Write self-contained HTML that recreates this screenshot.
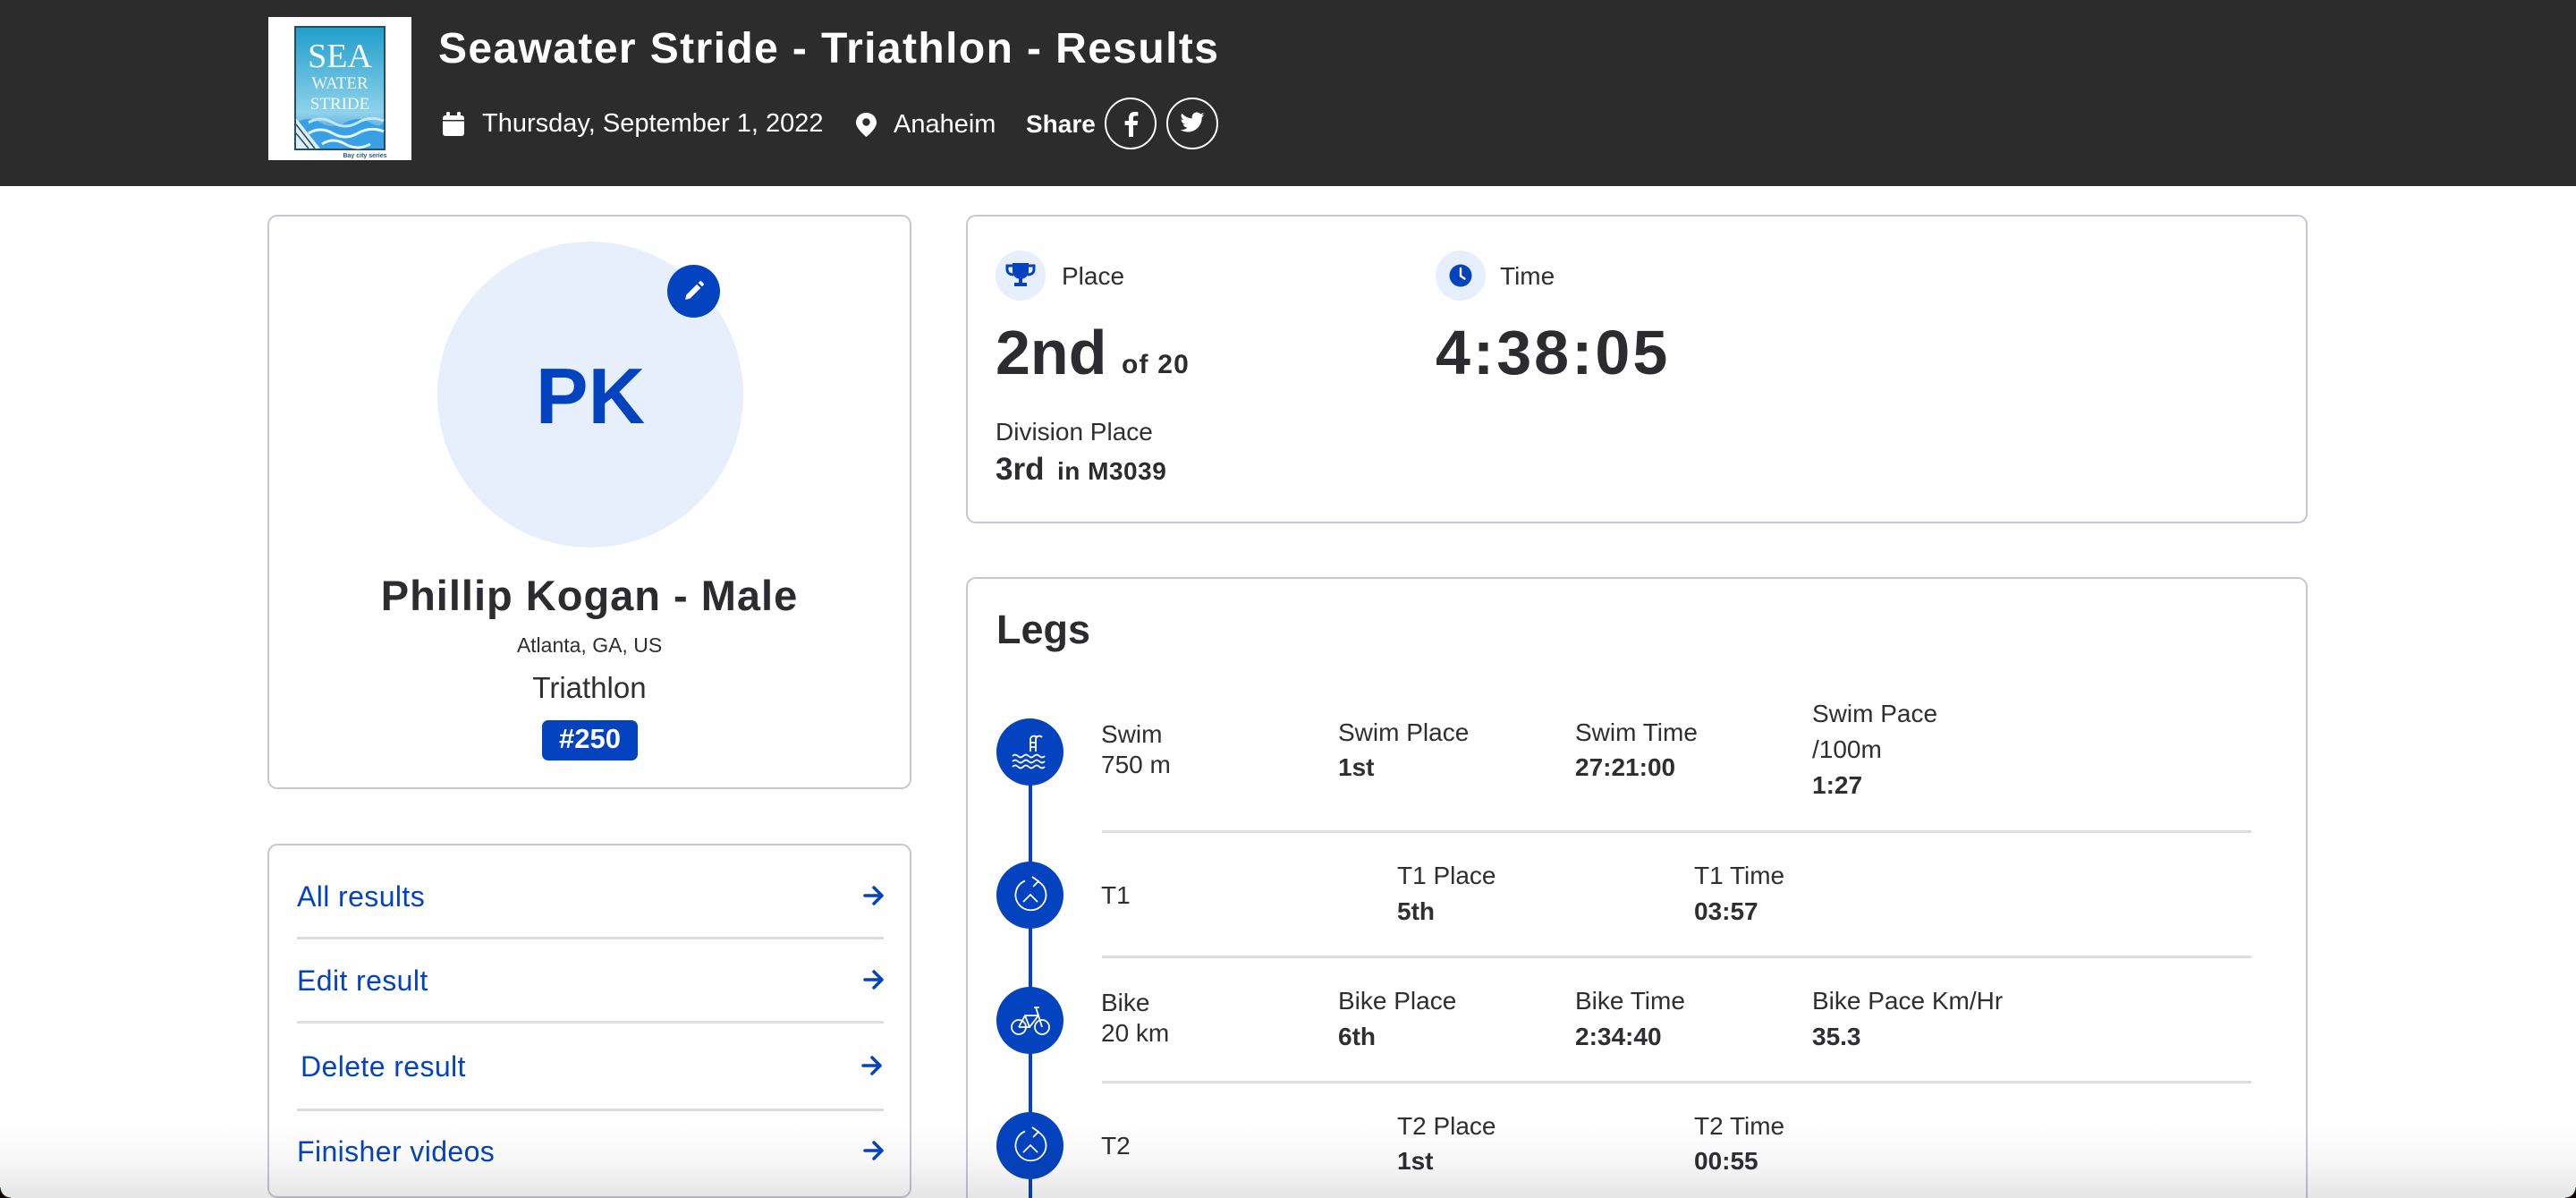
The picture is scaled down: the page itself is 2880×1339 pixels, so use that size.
<!DOCTYPE html>
<html><head><meta charset="utf-8"><style>
*{margin:0;padding:0;box-sizing:border-box}
html,body{width:2880px;height:1339px;overflow:hidden;background:#fff;font-family:"Liberation Sans",Arial,sans-serif;color:#2e2e33}
#wrap{position:relative;width:2880px;height:1339px;overflow:hidden}
.a{position:absolute;white-space:nowrap}
.hdr{position:absolute;left:0;top:0;width:2880px;height:208px;background:#2c2c2c}
.card{position:absolute;border:2px solid #c7c7d3;border-radius:11px;background:#fff}
.t28{font-size:28px;line-height:28px}
.b28{font-size:28px;line-height:28px;font-weight:bold}
.lnk{font-size:32px;line-height:32px;color:#0443c0;letter-spacing:0.4px}
.sep{position:absolute;height:3px;background:#dcdce3}
.circ{position:absolute;width:75px;height:75px;border-radius:50%;background:#0443c0}
.arr{position:absolute;left:965px;width:24px;height:22px}
</style></head><body><div id="wrap">
<div class="hdr"></div>
<!-- logo -->
<svg class="a" style="left:300px;top:19px" width="160" height="160" viewBox="0 0 160 160">
<defs><linearGradient id="lg" x1="0" y1="0" x2="0" y2="1"><stop offset="0" stop-color="#1f9dcc"/><stop offset="0.7" stop-color="#8fd2ea"/><stop offset="1" stop-color="#2d7fd0"/></linearGradient></defs>
<rect width="160" height="160" fill="#fff"/>
<rect x="30" y="11" width="100" height="137" fill="url(#lg)" stroke="#1f4f6a" stroke-width="2"/>
<text x="80" y="56" font-family="Liberation Serif,serif" font-size="38" fill="#f2fbff" text-anchor="middle">SEA</text>
<text x="80" y="80" font-family="Liberation Serif,serif" font-size="19" fill="#f2fbff" text-anchor="middle">WATER</text>
<text x="80" y="103" font-family="Liberation Serif,serif" font-size="19" fill="#f2fbff" text-anchor="middle">STRIDE</text>
<path d="M31 118 Q45 110 58 118 T86 118 T114 118 T129 116 V147 H31Z" fill="#3aa0e6"/>
<path d="M45 118 Q58 110 72 118 T100 118 T129 116" fill="none" stroke="#bfe9fb" stroke-width="3"/>
<path d="M45 130 Q58 122 72 130 T100 130 T129 128" fill="none" stroke="#e6f7ff" stroke-width="3"/>
<path d="M60 142 Q72 134 86 142 T114 142" fill="none" stroke="#e6f7ff" stroke-width="3"/>
<polygon points="31,113 31,147 58,147" fill="#dfeef2"/>
<line x1="31" y1="120" x2="52" y2="147" stroke="#1f4f6a" stroke-width="1.5"/>
<line x1="31" y1="130" x2="45" y2="147" stroke="#1f4f6a" stroke-width="1.5"/>
<text x="108" y="157" font-family="Liberation Sans,sans-serif" font-size="7" font-weight="bold" fill="#2a5a80" text-anchor="middle">Bay city series</text>
</svg>
<div class="a" style="left:490px;top:31px;font-size:48px;line-height:48px;font-weight:bold;color:#fff;letter-spacing:1.4px">Seawater Stride - Triathlon - Results</div>
<!-- calendar -->
<svg class="a" style="left:495px;top:125px" width="24" height="27" viewBox="0 0 24 27"><rect x="4" y="0" width="4" height="6" rx="1.5" fill="#fff"/><rect x="16" y="0" width="4" height="6" rx="1.5" fill="#fff"/><rect x="0" y="4" width="24" height="23" rx="3" fill="#fff"/><rect x="0" y="9" width="24" height="1.5" fill="#2c2c2c"/></svg>
<div class="a" style="left:539px;top:124px;font-size:29px;line-height:29px;color:#fff">Thursday, September 1, 2022</div>
<svg class="a" style="left:957px;top:126px" width="23" height="27" viewBox="0 0 23 27"><path d="M11.5 0C5 0 0 5 0 11c0 7 11.5 16 11.5 16S23 18 23 11C23 5 18 0 11.5 0z" fill="#fff"/><circle cx="11.5" cy="10.5" r="4.2" fill="#2c2c2c"/></svg>
<div class="a" style="left:999px;top:125px;font-size:29px;line-height:29px;color:#fff">Anaheim</div>
<div class="a" style="left:1147px;top:125px;font-size:28px;line-height:28px;color:#fff;font-weight:bold">Share</div>
<div class="a" style="left:1235px;top:109px;width:58px;height:58px;border:2px solid #fff;border-radius:50%"></div>
<svg class="a" style="left:1253px;top:123px" width="22" height="30" viewBox="0 0 22 30"><path d="M14 30V17h4.5l.7-5H14V9c0-1.5.5-2.5 2.6-2.5H19.4V2.2C18.9 2.1 17.3 2 15.5 2 11.6 2 9 4.3 9 8.6V12H4.6v5H9v13z" fill="#fff"/></svg>
<div class="a" style="left:1304px;top:109px;width:58px;height:58px;border:2px solid #fff;border-radius:50%"></div>
<svg class="a" style="left:1318px;top:125px" width="30" height="27" viewBox="0 0 24 22"><path d="M23 2.6c-.8.4-1.7.6-2.6.7.9-.6 1.6-1.4 2-2.5-.9.5-1.9.9-2.9 1.1A4.5 4.5 0 0 0 11.8 6 12.8 12.8 0 0 1 2.5 1.3a4.5 4.5 0 0 0 1.4 6c-.7 0-1.4-.2-2-.6v.1c0 2.2 1.5 4 3.6 4.4-.7.2-1.4.2-2 .1.6 1.8 2.2 3.1 4.2 3.1A9 9 0 0 1 1 16.3 12.8 12.8 0 0 0 7.9 18.3c8.3 0 12.8-6.9 12.8-12.8v-.6c.9-.6 1.6-1.4 2.3-2.3z" fill="#fff"/></svg>

<!-- profile card -->
<div class="card" style="left:299px;top:240px;width:720px;height:642px"></div>
<div class="a" style="left:489px;top:270px;width:342px;height:342px;border-radius:50%;background:#e7effc"></div>
<div class="a" style="left:489px;top:399px;width:342px;text-align:center;font-size:88px;line-height:88px;font-weight:bold;color:#0443c0">PK</div>
<div class="a" style="left:746px;top:296px;width:59px;height:59px;border-radius:50%;background:#0443c0"></div>
<svg class="a" style="left:763px;top:313px" width="25" height="25" viewBox="0 0 24 24"><path d="M3 21l1.2-5.2L15.5 4.5l4 4L8.2 19.8z" fill="#fff"/><path d="M17 3l1.5-1.5a1.4 1.4 0 0 1 2 0l2 2a1.4 1.4 0 0 1 0 2L21 7z" fill="#fff"/></svg>
<div class="a" style="left:299px;top:642px;width:720px;text-align:center;font-size:47px;line-height:47px;font-weight:bold;letter-spacing:1px;color:#2b2b30">Phillip Kogan - Male</div>
<div class="a" style="left:299px;top:710px;width:720px;text-align:center;font-size:23px;line-height:23px">Atlanta, GA, US</div>
<div class="a" style="left:299px;top:752px;width:720px;text-align:center;font-size:33px;line-height:33px">Triathlon</div>
<div class="a" style="left:606px;top:805px;width:107px;height:45px;border-radius:7px;background:#0443c0"></div>
<div class="a" style="left:606px;top:810px;width:107px;text-align:center;font-size:31px;line-height:31px;font-weight:bold;color:#fff">#250</div>

<!-- links card -->
<div class="card" style="left:299px;top:943px;width:720px;height:396px"></div>
<div class="a lnk" style="left:332px;top:986px">All results</div>
<div class="sep" style="left:332px;top:1047px;width:656px"></div>
<div class="a lnk" style="left:332px;top:1080px">Edit result</div>
<div class="sep" style="left:332px;top:1141px;width:656px"></div>
<div class="a lnk" style="left:336px;top:1176px">Delete result</div>
<div class="sep" style="left:332px;top:1239px;width:656px"></div>
<div class="a lnk" style="left:332px;top:1271px">Finisher videos</div>
<svg class="arr" style="top:990px" viewBox="0 0 24 22"><path d="M2 11h19M12 2l9 9-9 9" fill="none" stroke="#0443c0" stroke-width="3.5" stroke-linecap="round" stroke-linejoin="round"/></svg>
<svg class="arr" style="top:1084px" viewBox="0 0 24 22"><path d="M2 11h19M12 2l9 9-9 9" fill="none" stroke="#0443c0" stroke-width="3.5" stroke-linecap="round" stroke-linejoin="round"/></svg>
<svg class="arr" style="left:963px;top:1180px" viewBox="0 0 24 22"><path d="M2 11h19M12 2l9 9-9 9" fill="none" stroke="#0443c0" stroke-width="3.5" stroke-linecap="round" stroke-linejoin="round"/></svg>
<svg class="arr" style="top:1275px" viewBox="0 0 24 22"><path d="M2 11h19M12 2l9 9-9 9" fill="none" stroke="#0443c0" stroke-width="3.5" stroke-linecap="round" stroke-linejoin="round"/></svg>

<!-- place/time card -->
<div class="card" style="left:1080px;top:240px;width:1500px;height:345px"></div>
<div class="a" style="left:1113px;top:280px;width:56px;height:56px;border-radius:50%;background:#e7effc"></div>
<svg class="a" style="left:1124px;top:294px" width="34" height="28" viewBox="0 0 34 28"><path d="M8 0h18v9c0 5-3.5 8-7 8.6V22h5v4H10v-4h5v-4.4C11.5 17 8 14 8 9z" fill="#0443c0"/><path d="M8 3H2v4c0 4 3 6 7 6M26 3h6v4c0 4-3 6-7 6" fill="none" stroke="#0443c0" stroke-width="3"/></svg>
<div class="a t28" style="left:1187px;top:295px">Place</div>
<div class="a" style="left:1605px;top:280px;width:56px;height:56px;border-radius:50%;background:#e7effc"></div>
<svg class="a" style="left:1620px;top:295px" width="26" height="26" viewBox="0 0 26 26"><circle cx="13" cy="13" r="12.5" fill="#0443c0"/><path d="M13 5v8.5l4.5 3" fill="none" stroke="#fff" stroke-width="2.4" stroke-linecap="round"/></svg>
<div class="a t28" style="left:1677px;top:295px">Time</div>
<div class="a" style="left:1113px;top:359px;font-size:70px;line-height:70px;font-weight:bold;color:#2b2b30">2nd</div>
<div class="a" style="left:1254px;top:393px;font-size:30px;line-height:30px;font-weight:bold;letter-spacing:1.2px;color:#2b2b30">of 20</div>
<div class="a" style="left:1605px;top:359px;font-size:70px;line-height:70px;font-weight:bold;letter-spacing:3px;color:#2b2b30">4:38:05</div>
<div class="a t28" style="left:1113px;top:469px">Division Place</div>
<div class="a" style="left:1113px;top:507px;font-size:35px;line-height:35px;font-weight:bold;color:#2b2b30">3rd</div>
<div class="a b28" style="left:1182px;top:513px;letter-spacing:0.5px;color:#2b2b30">in M3039</div>

<!-- legs card -->
<div class="card" style="left:1080px;top:645px;width:1500px;height:720px"></div>
<div class="a" style="left:1114px;top:681px;font-size:45px;line-height:45px;font-weight:bold;color:#2b2b30">Legs</div>
<div class="a" style="left:1150px;top:841px;width:4px;height:498px;background:#0443c0"></div>
<div class="circ" style="left:1114px;top:803px"></div>
<svg class="a" style="left:1128px;top:818px" width="46" height="46" viewBox="0 0 46 46"><path d="M30 22V8a4 4 0 0 1 7-2M24 22V8a4 4 0 0 1 7-2M24 12h6M24 17h6" fill="none" stroke="#fff" stroke-width="1.8"/><path d="M4 27q3-3 6 0t6 0 6 0 6 0 6 0 6 0M4 33q3-3 6 0t6 0 6 0 6 0 6 0 6 0M4 39q3-3 6 0t6 0 6 0 6 0 6 0 6 0" fill="none" stroke="#fff" stroke-width="1.8"/></svg>
<div class="circ" style="left:1114px;top:963px"></div>
<svg class="a" style="left:1130px;top:979px" width="44" height="44" viewBox="0 0 44 44"><path d="M30 6A17 17 0 1 1 16 5.5" fill="none" stroke="#fff" stroke-width="1.8"/><path d="M24 1l7 5-6 6" fill="none" stroke="#fff" stroke-width="1.8"/><path d="M14 29l8-8 8 8" fill="none" stroke="#fff" stroke-width="1.8"/></svg>
<div class="circ" style="left:1114px;top:1103px"></div>
<svg class="a" style="left:1130px;top:1122px" width="44" height="38" viewBox="0 0 44 38"><circle cx="9" cy="26" r="8" fill="none" stroke="#fff" stroke-width="1.8"/><circle cx="35" cy="26" r="8" fill="none" stroke="#fff" stroke-width="1.8"/><path d="M9 26l7-13h15l4 13M16 13l5 13h-12M21 26l10-13M28 4l3 9M26 4h6" fill="none" stroke="#fff" stroke-width="1.8"/></svg>
<div class="circ" style="left:1114px;top:1243px"></div>
<svg class="a" style="left:1130px;top:1259px" width="44" height="44" viewBox="0 0 44 44"><path d="M30 6A17 17 0 1 1 16 5.5" fill="none" stroke="#fff" stroke-width="1.8"/><path d="M24 1l7 5-6 6" fill="none" stroke="#fff" stroke-width="1.8"/><path d="M14 29l8-8 8 8" fill="none" stroke="#fff" stroke-width="1.8"/></svg>

<div class="a t28" style="left:1231px;top:807px">Swim</div>
<div class="a t28" style="left:1231px;top:841px">750 m</div>
<div class="a t28" style="left:1496px;top:805px">Swim Place</div>
<div class="a b28" style="left:1496px;top:844px">1st</div>
<div class="a t28" style="left:1761px;top:805px">Swim Time</div>
<div class="a b28" style="left:1761px;top:844px">27:21:00</div>
<div class="a t28" style="left:2026px;top:784px">Swim Pace</div>
<div class="a t28" style="left:2026px;top:824px">/100m</div>
<div class="a b28" style="left:2026px;top:864px">1:27</div>
<div class="sep" style="left:1232px;top:928px;width:1285px"></div>

<div class="a t28" style="left:1231px;top:987px">T1</div>
<div class="a t28" style="left:1562px;top:965px">T1 Place</div>
<div class="a b28" style="left:1562px;top:1005px">5th</div>
<div class="a t28" style="left:1894px;top:965px">T1 Time</div>
<div class="a b28" style="left:1894px;top:1005px">03:57</div>
<div class="sep" style="left:1232px;top:1068px;width:1285px"></div>

<div class="a t28" style="left:1231px;top:1107px">Bike</div>
<div class="a t28" style="left:1231px;top:1141px">20 km</div>
<div class="a t28" style="left:1496px;top:1105px">Bike Place</div>
<div class="a b28" style="left:1496px;top:1145px">6th</div>
<div class="a t28" style="left:1761px;top:1105px">Bike Time</div>
<div class="a b28" style="left:1761px;top:1145px">2:34:40</div>
<div class="a t28" style="left:2026px;top:1105px">Bike Pace Km/Hr</div>
<div class="a b28" style="left:2026px;top:1145px">35.3</div>
<div class="sep" style="left:1232px;top:1208px;width:1285px"></div>

<div class="a t28" style="left:1231px;top:1267px">T2</div>
<div class="a t28" style="left:1562px;top:1245px">T2 Place</div>
<div class="a b28" style="left:1562px;top:1284px">1st</div>
<div class="a t28" style="left:1894px;top:1245px">T2 Time</div>
<div class="a b28" style="left:1894px;top:1284px">00:55</div>

<!-- bottom shading -->
<div class="a" style="left:0;top:1255px;width:2880px;height:84px;background:linear-gradient(to bottom,rgba(0,0,0,0),rgba(0,0,0,0.03) 50%,rgba(0,0,0,0.1))"></div>
<div class="a" style="left:0;top:1327px;width:12px;height:12px;background:radial-gradient(circle at 12px 0,rgba(0,0,0,0) 11px,#110505 12px)"></div>
<div class="a" style="left:2868px;top:1327px;width:12px;height:12px;background:radial-gradient(circle at 0 0,rgba(0,0,0,0) 11px,#110505 12px)"></div>
</div></body></html>
